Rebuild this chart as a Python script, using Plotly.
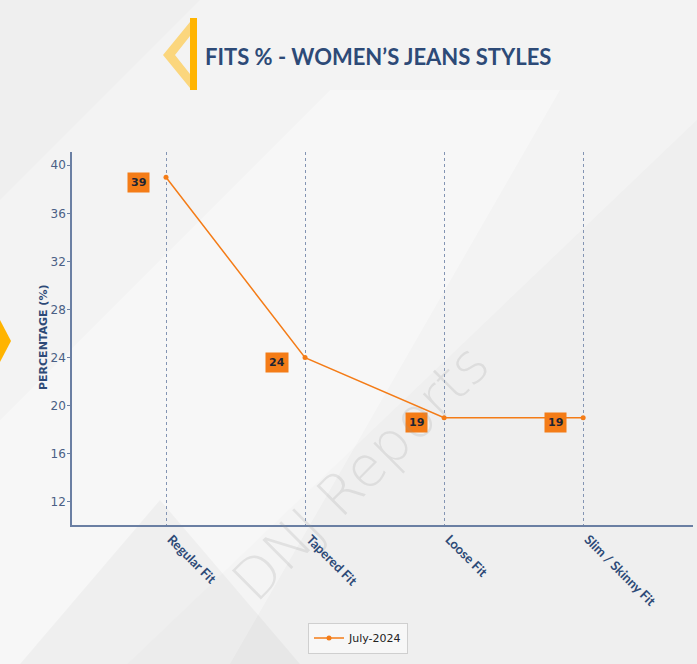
import plotly.graph_objects as go

categories = ["Regular Fit", "Tapered Fit", "Loose Fit", "Slim / Skinny Fit"]
values_july_2024 = [39, 24, 19, 19]
series_name = "July-2024"
y_ticks = [12, 16, 20, 24, 28, 32, 36, 40]

W, H = 697, 664
L, R, T, B = 72, 4, 152, 139
PW, PH = W - L - R, H - T - B

def px(x):
    return (x - L) / PW

def py(y):
    return (H - B - y) / PH

NAVY = "#2d4a77"
ORANGE = "#f47c17"

fig = go.Figure()
fig.add_trace(go.Scatter(
    x=categories, y=values_july_2024, name=series_name,
    mode="lines+markers",
    line=dict(color=ORANGE, width=1.5),
    marker=dict(color=ORANGE, size=5),
    hoverinfo="skip",
))

annotations = []
for c, v in zip(categories, values_july_2024):
    annotations.append(dict(
        x=c, y=v, xref="x", yref="y", text=f"<b>{v}</b>", showarrow=False,
        xshift=-28, yshift=-5, bgcolor=ORANGE, borderpad=3,
        font=dict(family="DejaVu Sans, sans-serif", size=11, color="#1c2433"),
    ))

# title
annotations.append(dict(
    x=px(378), y=py(56), xref="paper", yref="paper", showarrow=False,
    text="<b>FITS % - WOMEN’S JEANS STYLES</b>",
    font=dict(family="Lato, Open Sans, sans-serif", size=22, color=NAVY),
    xanchor="center", yanchor="middle",
))
# y axis title
annotations.append(dict(
    x=px(43), y=py(338), xref="paper", yref="paper", showarrow=False,
    text="<b>PERCENTAGE (%)</b>", textangle=-90,
    font=dict(family="DejaVu Sans, sans-serif", size=11, color=NAVY),
    xanchor="center", yanchor="middle",
))
# watermark
annotations.append(dict(
    x=px(360), y=py(472), xref="paper", yref="paper", showarrow=False,
    text="DNJ Reports", textangle=-45,
    font=dict(family="DejaVu Sans, sans-serif", size=56, weight=200,
              color="rgba(150,150,150,0.2)"),
    xanchor="center", yanchor="middle",
))

shapes = []
# background decorative diagonal bands
shapes.append(dict(type="path", xref="paper", yref="paper", layer="below",
                   path=f"M {px(0)} {py(664)} L {px(0)} {py(420)} L {px(330)} {py(90)} L {px(560)} {py(90)} L {px(230)} {py(664)} Z",
                   fillcolor="rgba(255,255,255,0.35)", line=dict(width=0)))
shapes.append(dict(type="path", xref="paper", yref="paper", layer="below",
                   path=f"M {px(0)} {py(200)} L {px(200)} {py(0)} L {px(697)} {py(0)} L {px(697)} {py(120)} L {px(90)} {py(700)} L {px(0)} {py(700)} Z",
                   fillcolor="rgba(255,255,255,0.25)", line=dict(width=0)))
shapes.append(dict(type="path", xref="paper", yref="paper", layer="below",
                   path=f"M {px(20)} {py(664)} L {px(160)} {py(500)} L {px(300)} {py(664)} Z",
                   fillcolor="rgba(0,0,0,0.03)", line=dict(width=0)))
# yellow chevron by title
shapes.append(dict(type="path", xref="paper", yref="paper", layer="above",
                   path=f"M {px(190)} {py(22)} L {px(163)} {py(55)} L {px(190)} {py(88)} L {px(190)} {py(74)} L {px(175)} {py(55)} L {px(190)} {py(36)} Z",
                   fillcolor="#fbd67d", line=dict(width=0)))
shapes.append(dict(type="rect", xref="paper", yref="paper", layer="above",
                   x0=px(190), x1=px(197), y0=py(90), y1=py(18),
                   fillcolor="#ffb400", line=dict(width=0)))
# left edge diamond
shapes.append(dict(type="path", xref="paper", yref="paper", layer="above",
                   path=f"M {px(0)} {py(320)} L {px(11)} {py(341)} L {px(0)} {py(362)} Z",
                   fillcolor="#ffb400", line=dict(width=0)))

fig.update_layout(
    width=W, height=H,
    margin=dict(l=L, r=R, t=T, b=B),
    paper_bgcolor="#efefef",
    plot_bgcolor="rgba(0,0,0,0)",
    font=dict(family="Lato, Open Sans, sans-serif", color=NAVY),
    showlegend=True,
    legend=dict(orientation="h", x=px(358), y=py(638), xanchor="center", yanchor="middle",
                bgcolor="rgba(255,255,255,0.5)", bordercolor="#cfcfcf", borderwidth=1,
                font=dict(family="DejaVu Sans, sans-serif", size=11, color="#222")),
    annotations=annotations,
    shapes=shapes,
    xaxis=dict(
        type="category", range=[-0.676, 3.79],
        showgrid=True, gridcolor="#8394b3", griddash="dot", gridwidth=1,
        showline=True, linecolor="#6a7fa3", linewidth=1.5,
        ticks="", tickangle=45, ticklabelshift=5,
        tickfont=dict(family="Lato, Open Sans, sans-serif", size=13, color=NAVY, weight="bold"),
        zeroline=False,
    ),
    yaxis=dict(
        range=[10.08, 41.1], tickvals=y_ticks,
        showgrid=False, zeroline=False,
        showline=True, linecolor="#6a7fa3", linewidth=1.5,
        ticks="outside", ticklen=3, tickcolor="#6a7fa3", ticklabelstandoff=-1,
        tickfont=dict(family="DejaVu Sans, sans-serif", size=12, color="#4a5f85"),
    ),
)

fig.write_html("out.html", config={"displayModeBar": False},
               post_script="document.body.style.margin='0';document.body.style.overflow='hidden';")
